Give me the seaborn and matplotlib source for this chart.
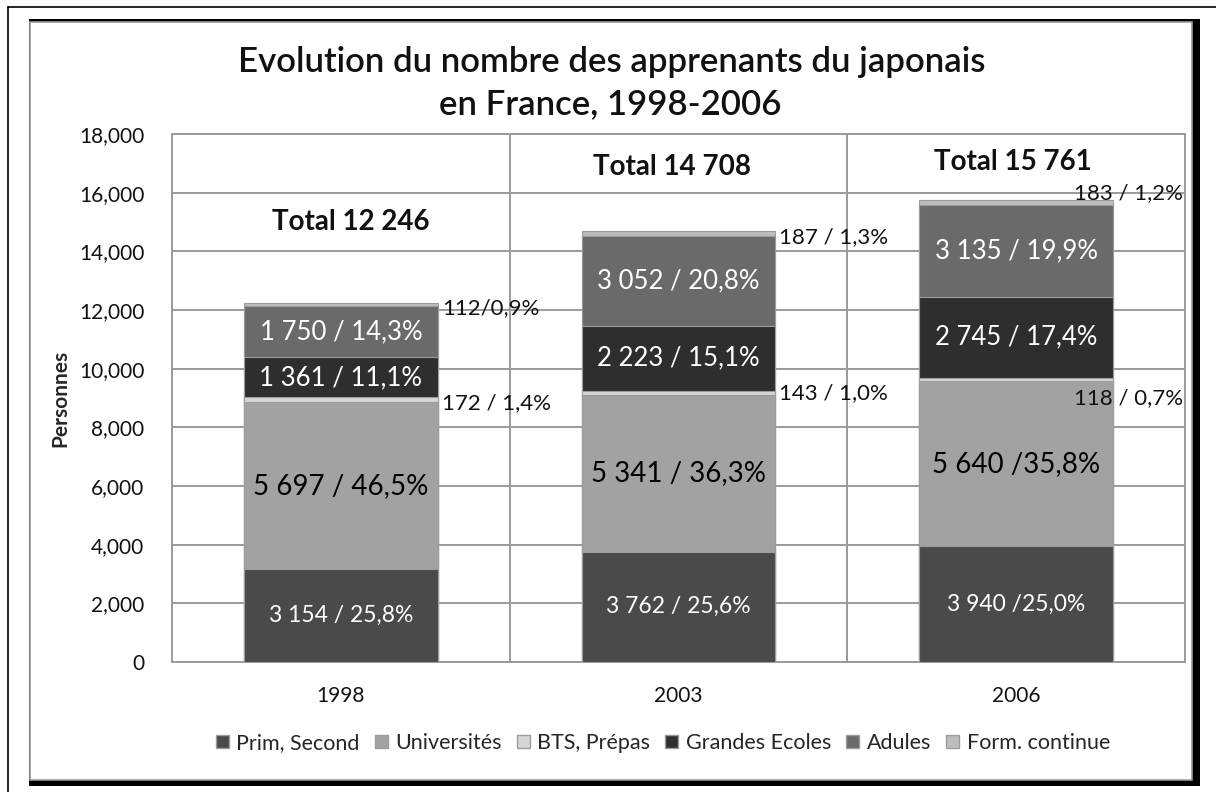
import numpy as np
import seaborn as sns
import matplotlib.pyplot as plt
from matplotlib.patches import Rectangle, Patch
from matplotlib.lines import Line2D
from matplotlib.ticker import FuncFormatter, FixedLocator

# data
years = ['1998', '2003', '2006']
series = ['Prim, Second', 'Universités', 'BTS, Prépas', 'Grandes Ecoles', 'Adules', 'Form. continue']
prim = [3154, 3762, 3940]
univ = [5697, 5341, 5640]
bts = [172, 143, 118]
grandes = [1361, 2223, 2745]
adules = [1750, 3052, 3135]
form = [112, 187, 183]
totals_txt = ['Total 12 246', 'Total 14 708', 'Total 15 761']

prim_lbl = ['3 154 / 25,8%', '3 762 / 25,6%', '3 940 /25,0%']
univ_lbl = ['5 697 / 46,5%', '5 341 / 36,3%', '5 640 /35,8%']
bts_lbl = ['172 / 1,4%', '143 / 1,0%', '118 / 0,7%']
grandes_lbl = ['1 361 / 11,1%', '2 223 / 15,1%', '2 745 / 17,4%']
adules_lbl = ['1 750 / 14,3%', '3 052 / 20,8%', '3 135 / 19,9%']
form_lbl = ['112/0,9%', '187 / 1,3%', '183 / 1,2%']

layers = [prim, univ, bts, grandes, adules, form]
colors = ['#4a4a4a', '#a2a2a2', '#d6d6d6', '#2e2e2e', '#6a6a6a', '#bdbdbd']

sns.set_style('white')
plt.rcParams['font.family'] = ['Lato', 'DejaVu Sans']

W, H = 1216, 792
fig = plt.figure(figsize=(W / 100, H / 100), dpi=100)

def fx(px):
    return px / W

def fy(py):
    return 1 - py / H

# outer frame + chart area with black shadow
fig.add_artist(Line2D([fx(8), 1], [fy(7), fy(7)], color='black', lw=1.2))
fig.add_artist(Line2D([fx(8), fx(8)], [0, fy(7)], color='black', lw=1.2))
fig.add_artist(Rectangle((fx(29), fy(786)), fx(1200) - fx(29), fy(19) - fy(786),
                         transform=fig.transFigure, facecolor='black', edgecolor='none'))
fig.add_artist(Rectangle((fx(30), fy(780)), fx(1192) - fx(30), fy(22) - fy(780),
                         transform=fig.transFigure, facecolor='white', edgecolor='#9a9a9a', lw=1.2))

ax = fig.add_axes([fx(172), fy(662), fx(1185) - fx(172), fy(134) - fy(662)])
ax.set_zorder(2)

bar_w = 0.574
cum = np.cumsum(np.array(layers), axis=0)
# overlay cumulative bars from top layer down
for i in range(len(layers) - 1, -1, -1):
    sns.barplot(x=years, y=cum[i], color=colors[i], saturation=1, width=bar_w,
                edgecolor='#9c9c9c', linewidth=0.8, ax=ax, zorder=3)

ax.set_ylim(0, 18000)
ax.set_xlim(-0.5, 2.5)
ax.yaxis.set_major_locator(FixedLocator(np.arange(0, 18001, 2000)))
ax.yaxis.set_major_formatter(FuncFormatter(lambda v, p: f'{int(v):,}'))
ax.xaxis.set_minor_locator(FixedLocator([0.5, 1.5]))
ax.grid(axis='y', which='major', color='#9a9a9a', lw=1.4, zorder=0)
ax.grid(axis='x', which='minor', color='#9a9a9a', lw=1.4, zorder=0)
ax.set_axisbelow(True)
for s in ax.spines.values():
    s.set_color('#9a9a9a')
    s.set_linewidth(1.4)
ax.tick_params(axis='both', which='both', length=0, labelsize=15, colors='#111111')
ax.tick_params(axis='y', pad=20)
ax.tick_params(axis='x', pad=17)
ax.set_xlabel('')
ax.set_ylabel('Personnes', fontsize=15, fontweight='bold', labelpad=6)

# segment labels
inner = [(prim_lbl, 0, 'white', 16.5), (univ_lbl, 1, 'black', 20),
         (grandes_lbl, 3, 'white', 18.5), (adules_lbl, 4, 'white', 18.5)]
for lbls, k, col, fs in inner:
    for j in range(3):
        base = cum[k - 1][j] if k > 0 else 0
        ax.text(j, base + layers[k][j] / 2, lbls[j], ha='center', va='center',
                color=col, fontsize=fs, zorder=5)

# small outer labels (BTS, Form. continue)
out_dy = {2: [-100, 0, -640], 5: [-120, -120, 320]}
out_lbls = {2: bts_lbl, 5: form_lbl}
for k in (2, 5):
    for j in range(3):
        yc = cum[k][j] - layers[k][j] / 2 + out_dy[k][j]
        if j < 2:
            ax.text(j + bar_w / 2 + 0.012, yc, out_lbls[k][j], ha='left', va='center',
                    fontsize=16, color='#111111', zorder=5)
        else:
            ax.text(2.495, yc, out_lbls[k][j], ha='right', va='center',
                    fontsize=16, color='#111111', zorder=5)

# totals
tot_x = [0.03, 0.98, 1.99]
tot_y = [15000, 16880, 17050]
for j in range(3):
    ax.text(tot_x[j], tot_y[j], totals_txt[j], ha='center', va='center',
            fontsize=20, fontweight='bold', color='#111111', zorder=5)

# title
fig.text(fx(612), fy(62), 'Evolution du nombre des apprenants du japonais',
         ha='center', va='center', fontsize=25, fontweight='semibold', color='#111111')
fig.text(fx(610), fy(104), 'en France, 1998-2006',
         ha='center', va='center', fontsize=25, fontweight='semibold', color='#111111')

handles = [Patch(facecolor=c, edgecolor='#9c9c9c', label=s) for c, s in zip(colors, series)]
fig.legend(handles=handles, loc='center', bbox_to_anchor=(fx(663), fy(743)), ncol=6,
           frameon=False, fontsize=15.5, handlelength=0.6, handleheight=0.6,
           handletextpad=0.35, columnspacing=0.7)

fig.savefig('out.png', dpi=100)
